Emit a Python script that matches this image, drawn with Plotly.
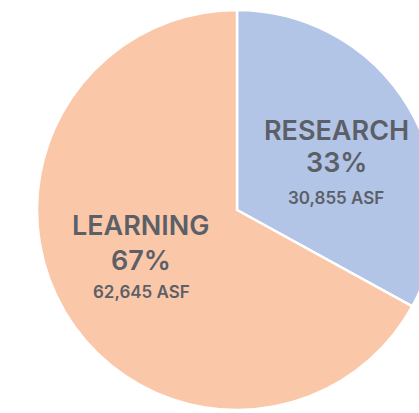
import plotly.graph_objects as go

categories = ["RESEARCH", "LEARNING"]
asf_values = [30855, 62645]
colors = ["#B3C5E6", "#FAC8A9"]

total = sum(asf_values)
pcts = [round(v / total * 100) for v in asf_values]

fig = go.Figure(go.Pie(
    labels=categories,
    values=asf_values,
    sort=False,
    direction="clockwise",
    rotation=0,
    marker=dict(colors=colors, line=dict(color="white", width=2.5)),
    textinfo="none",
    hoverinfo="label+value+percent",
    showlegend=False,
))

txt_color = "#5B6068"
# label anchor (x, y of name line, y of percent line, y of ASF line) in paper coords
label_pos = {
    "RESEARCH": (0.7475, 0.70, 0.618, 0.531),
    "LEARNING": (0.26, 0.4625, 0.375, 0.296),
}
for cat, v, p in zip(categories, asf_values, pcts):
    x, y1, y2, y3 = label_pos[cat]
    for txt, yy, sz in [(cat, y1, 27), (f"{p}%", y2, 27), (f"{v:,} ASF", y3, 17)]:
        fig.add_annotation(
            x=x, y=yy, xref="paper", yref="paper", showarrow=False,
            xanchor="center", yanchor="middle",
            text=txt,
            font=dict(family="Inter", size=sz, color=txt_color, weight=600),
        )

fig.update_layout(
    width=437, height=413,
    margin=dict(l=37, r=0, t=10, b=3),
    paper_bgcolor="white",
    plot_bgcolor="white",
)

fig.write_html("out.html",
               config={"displayModeBar": False},
               post_script="document.documentElement.style.overflow='hidden';document.body.style.overflow='hidden';document.body.style.margin='0';")
